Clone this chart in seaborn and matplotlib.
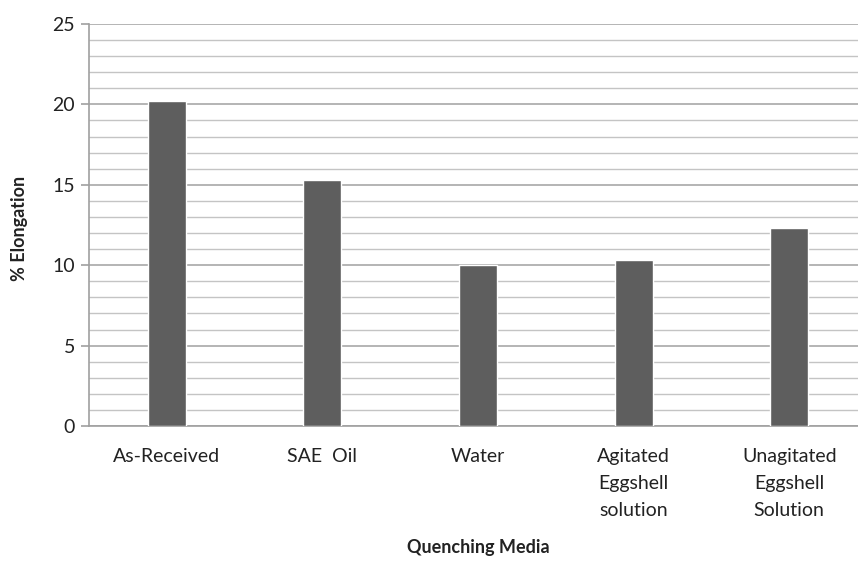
import matplotlib
matplotlib.use("Agg")
import matplotlib.pyplot as plt
from matplotlib.ticker import MultipleLocator
import seaborn as sns
import pandas as pd

categories = ["As-Received", "SAE  Oil", "Water", "Agitated\nEggshell\nsolution", "Unagitated\nEggshell\nSolution"]
elongation = [20.2, 15.3, 10.0, 10.3, 12.3]

sns.set_style("white")
plt.rcParams['font.family'] = ['Lato', 'DejaVu Sans']

df = pd.DataFrame({"Quenching Media": categories, "% Elongation": elongation})

W, H = 858, 561
fig = plt.figure(figsize=(W/100, H/100), dpi=100)
left, right, top, bottom = 89, 867, 24, 426
ax = fig.add_axes([left/W, 1 - bottom/H, (right-left)/W, (bottom-top)/H])

sns.barplot(data=df, x="Quenching Media", y="% Elongation", color="#5e5e5e",
            width=0.245, saturation=1, ax=ax, zorder=3)

ax.set_ylim(0, 25)
ax.set_xlim(-0.5, 4.5)
ax.yaxis.set_major_locator(MultipleLocator(5))
ax.yaxis.set_minor_locator(MultipleLocator(1))
ax.grid(True, which="major", axis="y", color="#a8a8a8", linewidth=1.2, zorder=0)
ax.grid(True, which="minor", axis="y", color="#c4c4c4", linewidth=1.0, zorder=0)
ax.set_axisbelow(True)

for s in ["top", "right"]:
    ax.spines[s].set_visible(False)
for s in ["left", "bottom"]:
    ax.spines[s].set_color("#a0a0a0")
    ax.spines[s].set_linewidth(1.2)

ax.tick_params(axis="y", which="major", length=6, color="#a0a0a0", width=1.2,
               labelsize=14, labelcolor="#222222", pad=4, left=True)
ax.tick_params(axis="y", which="minor", length=0)
ax.tick_params(axis="x", length=0, labelsize=14, labelcolor="#222222", pad=16)
for lbl in ax.get_xticklabels():
    lbl.set_linespacing(1.72)

ax.set_xlabel("Quenching Media", fontsize=13, fontweight="bold", color="#222222", va="center")
ax.set_ylabel("% Elongation", fontsize=13, fontweight="bold", color="#222222", va="center")
ax.xaxis.set_label_coords((478 - left) / (right - left), -(548 - bottom) / (bottom - top))
ax.yaxis.set_label_coords(-(89 - 20) / (right - left), (bottom - 228) / (bottom - top))

fig.savefig("out.png", dpi=100)
